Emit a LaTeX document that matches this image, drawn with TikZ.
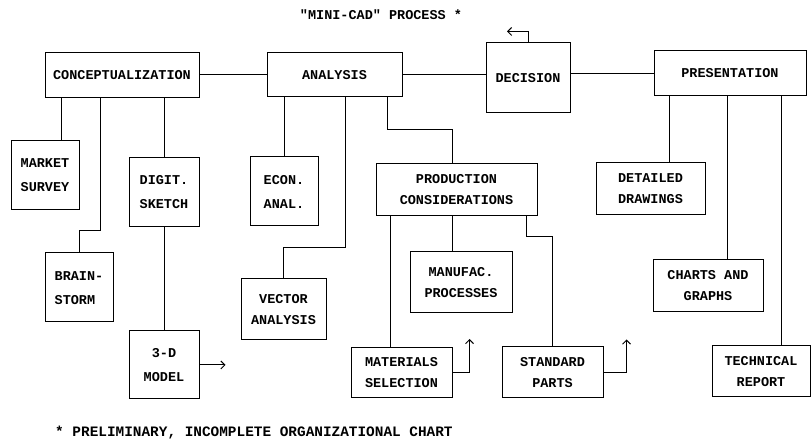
\documentclass[tikz,border=0pt]{standalone}
\usepackage{fontspec}
\usetikzlibrary{arrows.meta}
\newfontfamily\plotter{Liberation Mono}

\tikzset{
  box/.style={draw, line width=1pt, inner sep=0pt, align=center,
    font=\plotter\bfseries\fontsize{13.5}{21}\selectfont},
  tallbox/.style={box, font=\plotter\bfseries\fontsize{13.5}{24}\selectfont},
  link/.style={line width=1pt},
  label/.style={font=\plotter\bfseries\fontsize{13.5}{16}\selectfont, inner sep=0pt}
}

\begin{document}
\begin{tikzpicture}[x=1pt, y=-1pt, >={Straight Barb[length=4pt,width=8pt]}]
  \useasboundingbox (0,0) rectangle (812,443);

  \node[label] (title) at (381,15) {"MINI-CAD" PROCESS *};

  % main row
  \node[box, minimum width=154, minimum height=45] (concept) at (122,75.5) {CONCEPTUALIZATION};
  \node[box, minimum width=135, minimum height=44] (analysis) at (334.5,75) {ANALYSIS};
  \node[box, minimum width=84, minimum height=70] (decision) at (528,78) {DECISION};
  \node[box, minimum width=152, minimum height=45] (present) at (730,73.5) {PRESENTATION};

  % conceptualization branch
  \node[tallbox, minimum width=68, minimum height=69] (market) at (45,175.5) {MARKET\\SURVEY};
  \node[tallbox, minimum width=68, minimum height=69] (brain) at (79,287.5) {\begin{tabular}{@{}l@{}}BRAIN-\\STORM\end{tabular}};
  \node[tallbox, minimum width=70, minimum height=69] (digit) at (164,192.5) {DIGIT.\\SKETCH};
  \node[tallbox, minimum width=70, minimum height=68] (model) at (164,365) {3-D\\MODEL};

  % analysis branch
  \node[tallbox, minimum width=68, minimum height=69] (econ) at (284,191.5) {ECON.\\ANAL.};
  \node[box, minimum width=85, minimum height=61] (vector) at (283.5,309.5) {VECTOR\\ANALYSIS};
  \node[box, minimum width=161, minimum height=52] (prod) at (456.5,190) {PRODUCTION\\CONSIDERATIONS};
  \node[box, minimum width=102, minimum height=61] (manuf) at (461,282.5) {MANUFAC.\\PROCESSES};
  \node[box, minimum width=101, minimum height=50] (mat) at (401.5,373) {MATERIALS\\SELECTION};
  \node[box, minimum width=101, minimum height=51] (std) at (552.5,372.5) {STANDARD\\PARTS};

  % presentation branch
  \node[box, minimum width=109, minimum height=52] (detail) at (650.5,189) {DETAILED\\DRAWINGS};
  \node[box, minimum width=110, minimum height=52] (charts) at (708,286) {CHARTS AND\\GRAPHS};
  \node[box, minimum width=98, minimum height=51] (tech) at (761,371.5) {TECHNICAL\\REPORT};

  \node[label, anchor=west, font=\plotter\bfseries\fontsize{14.4}{16}\selectfont] (note) at (55,433) {* PRELIMINARY, INCOMPLETE ORGANIZATIONAL CHART};

  % connectors
  \draw[link] (concept.east |- analysis.west) -- (analysis.west);
  \draw[link] (analysis.east) -- (analysis.east -| decision.west);
  \draw[link] (present.west -| decision.east) -- (present.west);
  \draw[link, ->] (decision.north) -- ++(0,-11) -- ++(-21,0);

  \draw[link] (concept.south -| 61,0) -- (market.north -| 61,0);
  \draw[link] (concept.south -| 100,0) -- (100,231) -| (brain.north);
  \draw[link] (digit.north) -- (digit.north |- concept.south);
  \draw[link] (digit.south) -- (model.north);
  \draw[link, ->] (model.east) -- ++(26,0);

  \draw[link] (econ.north) -- (econ.north |- analysis.south);
  \draw[link] (analysis.south -| 345,0) -- (345,248) -| (vector.north);
  \draw[link] (analysis.south -| 387,0) -- (387,130) -| (prod.north -| 452,0);
  \draw[link] (prod.south -| 452,0) -- (manuf.north -| 452,0);
  \draw[link] (prod.south -| 390,0) -- (mat.north -| 390,0);
  \draw[link] (prod.south -| 526,0) -- (526,237) -| (std.north);
  \draw[link, ->] (mat.east) -- ++(17,0) -- ++(0,-34);
  \draw[link, ->] (std.east) -- ++(23,0) -- ++(0,-33);

  \draw[link] (present.south -| 669,0) -- (detail.north -| 669,0);
  \draw[link] (present.south -| 727,0) -- (charts.north -| 727,0);
  \draw[link] (present.south -| 781,0) -- (tech.north -| 781,0);
\end{tikzpicture}
\end{document}
